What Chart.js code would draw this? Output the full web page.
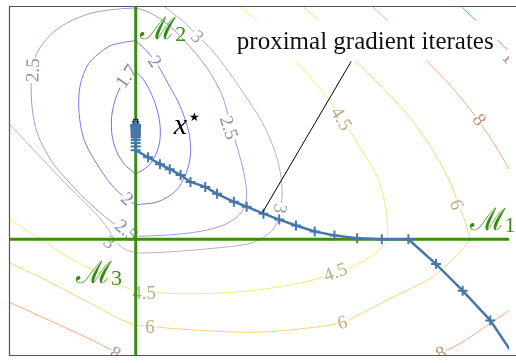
<!DOCTYPE html>
<html>
<head>
<meta charset="utf-8">
<title>Proximal gradient iterates</title>
<script src="https://cdn.jsdelivr.net/npm/chart.js@4.4.1/dist/chart.umd.min.js"></script>
<style>
    html, body { margin: 0; padding: 0; background: #fff; overflow: hidden; }
    canvas { display: block; }
</style>
</head>
<body>
<canvas id="proxChart" width="516" height="363"></canvas>
<script>
//--- Level sets of F = f + g, as [x1, x2] polylines. Split where they bend over a manifold.
var level17Left = [[0, 17.0], [-0.95, 16.2], [-1.65, 15.2], [-2.15, 13.9], [-2.45, 12.3], [-2.4, 10.5], [-1.95, 8.9], [-1.15, 7.6], [0, 6.6]];
var level17Right = [[0, 17.0], [0.75, 16.2], [1.45, 15.0], [2.05, 13.5], [2.45, 11.7], [2.45, 10.0], [2.05, 8.6], [1.25, 7.4], [0, 6.6]];

var level2Left = [[0, 20.1], [-1.35, 19.9], [-2.75, 19.5], [-4.75, 17.8], [-5.65, 15.5], [-5.75, 12.8], [-5.25, 10.1], [-4.05, 7.8], [-2.45, 5.5], [-0.95, 4.1], [0, 3.5]];
var level2Right = [[0, 20.1], [1.25, 18.9], [2.25, 17.6], [3.25, 15.8], [4.25, 14.0], [4.95, 12.3], [5.45, 10.5], [5.55, 8.5], [5.05, 6.5], [4.05, 4.9], [2.25, 3.8], [0, 3.5]];

var level25Left = [[0, 23.4], [-1.75, 23.3], [-4.45, 22.9], [-6.95, 21.9], [-8.75, 20.6], [-10.05, 18.8], [-10.55, 17.1], [-10.55, 13.8], [-10.15, 11.3], [-9.45, 9.5], [-8.25, 7.5], [-7.05, 6.1], [-5.55, 4.5], [-4.05, 3.1], [-2.25, 1.6], [0, 0.3]];
var level25Right = [[0, 23.4], [1.25, 23.0], [2.95, 22.0], [4.95, 20.1], [7.25, 17.3], [8.75, 14.6], [9.55, 11.8], [10.35, 9.1], [10.95, 6.8], [11.25, 4.6], [11.0, 3.2], [10.2, 2.2], [8.8, 1.4], [6.5, 0.8], [3.5, 0.45], [0, 0.3]];

var level3Left = [[-14.25, 13.1], [-12.75, 11.6], [-11.25, 10.0], [-9.45, 8.1], [-7.95, 6.5], [-6.05, 4.6], [-4.05, 2.6], [-2.75, 1.0], [-2.25, 0]];
var level3Dip = [[-2.25, 0], [-1.25, -0.9], [0, -1.4]];
var level3Lower = [[0, -1.4], [2.95, -1.3], [7.95, -0.9], [11.25, -0.5], [12.65, 0]];
var level3Right = [[12.65, 0], [13.85, 0.9], [14.55, 2.3], [14.85, 4.6], [14.65, 6.8], [14.15, 8.8], [13.25, 11.0], [12.25, 12.8], [11.05, 14.6], [9.55, 16.8], [7.75, 19.1], [6.25, 20.6], [4.75, 22.1], [2.95, 23.5], [2.05, 24.4]];

var level45Left = [[-14.25, 3.0], [-12.75, 2.0], [-11.05, 0.9], [-9.55, 0]];
var level45Dip = [[-9.55, 0], [-7.05, -1.7], [-3.75, -3.4], [-1.75, -4.6], [0, -5.2]];
var level45Lower = [[0, -5.2], [4.25, -5.5], [9.25, -5.4], [13.25, -5.0], [17.25, -4.3], [20.25, -3.4], [22.75, -2.4], [24.55, -1.2], [25.55, 0]];
var level45Right = [[25.55, 0], [25.55, 1.3], [25.25, 3.8], [24.35, 6.6], [22.75, 9.3], [20.95, 12.2], [19.05, 14.8], [16.25, 18.0], [12.05, 22.3], [10.55, 23.5], [9.85, 24.2]];

var level6Left = [[-14.25, -1.7], [-12.75, -2.4], [-9.75, -3.8], [-7.05, -5.2], [-3.75, -6.9], [-1.75, -8.0], [0, -8.7]];
var level6Lower = [[0, -8.7], [6.25, -9.2], [12.25, -9.4], [17.25, -9.0], [20.95, -8.4], [23.45, -7.2], [25.95, -5.9], [29.95, -3.9], [32.55, -1.6], [33.95, 0]];
var level6Right = [[33.95, 0], [33.55, 1.3], [32.85, 3.3], [31.95, 5.6], [30.25, 8.8], [27.95, 12.1], [25.25, 15.1], [22.55, 17.8], [18.45, 22.2], [17.05, 23.5], [16.25, 24.3]];

var level8Left = [[-14.25, -5.8], [-12.75, -6.4], [-8.75, -8.2], [-5.05, -9.9], [-2.45, -11.2], [-1.25, -11.9], [-0.05, -12.6]];
var level8Lower = [[28.25, -12.8], [30.95, -11.5], [32.95, -10.5], [35.95, -8.5], [37.85, -7.2], [39.25, -6.2]];
var level8Upper = [[23.25, 24.3], [24.05, 23.5], [25.55, 22.1], [29.75, 17.8], [31.95, 15.5], [33.95, 13.1], [36.25, 9.8], [37.85, 7.1], [38.75, 5.3]];

var level10Upper = [[32.25, 24.3], [33.05, 23.5], [34.55, 22.1], [37.05, 19.8], [38.25, 18.6], [39.25, 17.6]];

//--- Manifolds M2 = {x1 = 0}, M1 = {x2 = 0}
var manifold2 = [[0, -13], [0, 25]];
var manifold1 = [[-14, 0], [40, 0]];

//--- Proximal gradient iterates, first to last
var iterX = [38.65, 35.95, 33.15, 30.45, 27.65, 24.95, 22.45, 20.15, 18.15, 16.25, 14.55, 12.95, 11.25, 9.95, 8.25, 7.05, 5.55, 4.55, 3.45, 2.45, 1.25,
    0, 0, 0, 0, 0, 0, 0, 0, 0, 0, 0, 0, 0, 0, 0, 0, 0, 0, 0, 0, 0, 0, 0, 0, 0, 0];
var iterY = [-12.2, -8.2, -5.2, -2.5, 0, 0, 0.1, 0.4, 0.8, 1.4, 2.0, 2.6, 3.3, 3.8, 4.6, 5.3, 5.8, 6.5, 7.1, 7.6, 8.3,
    9.0, 9.4, 9.75, 10.05, 10.3, 10.45, 10.58, 10.7, 10.8, 10.9, 10.98, 11.06, 11.13, 11.2, 11.26, 11.31, 11.36, 11.4, 11.44, 11.47, 11.5, 11.52, 11.54, 11.56, 11.58, 11.6];
var solution = [0, 11.9];

//--- Level values and their pieces
var levels = ['1.7', '2', '2.5', '3', '4.5', '6', '8', '10'];
var levelPieces = {
    '1.7': [level17Left, level17Right],
    '2': [level2Left, level2Right],
    '2.5': [level25Left, level25Right],
    '3': [level3Left, level3Dip, level3Lower, level3Right],
    '4.5': [level45Left, level45Dip, level45Lower, level45Right],
    '6': [level6Left, level6Lower, level6Right],
    '8': [level8Left, level8Lower, level8Upper],
    '10': [level10Upper]
};

// line and label colours per level
var lineColors = {
    '1.7': '#7070f0', '2': '#7878ee', '2.5': '#9c9ce2', '3': '#b2b2ca',
    '4.5': '#f2ec72', '6': '#f8d472', '8': '#f8aa7a', '10': '#f07272'
};
var textColors = {
    '1.7': '#8484b4', '2': '#8888b6', '2.5': '#8e8eaa', '3': '#9c9cac',
    '4.5': '#b4b07e', '6': '#bfab7c', '8': '#c09479', '10': '#c08080'
};

// where the level labels sit: value, [x1, x2], angle in degrees
var labelSpots = [
    ['3', [-2.65, -0.3], 40],
    ['2.5', [-0.95, 0.9], 40],
    ['1.7', [-0.95, 16.5], -55],
    ['2', [1.95, 18.0], 55],
    ['2', [-0.85, 4.1], 40],
    ['2.5', [-10.45, 17.1], -88],
    ['2.5', [9.45, 11.3], 72],
    ['3', [6.25, 20.5], 45],
    ['3', [14.65, 3.1], 100],
    ['4.5', [20.85, 12.2], 58],
    ['4.5', [0.85, -5.4], 0],
    ['4.5', [20.25, -3.3], -20],
    ['6', [32.55, 3.5], 70],
    ['6', [1.45, -8.9], 0],
    ['6', [20.95, -8.4], -15],
    ['8', [34.85, 12.1], 55],
    ['8', [-2.05, -11.5], 27],
    ['8', [30.95, -11.5], -25],
    ['10', [38.15, 18.1], 45]
];

// manifold names: index, anchor of the letter [x1, x2]
var manifoldNames = [
    ['2', [0.45, 20.3]],
    ['1', [33.85, 0.9]],
    ['3', [-6.05, -4.4]]
];

var greenColor = '#3a8c12';
var pathColor = '#4677ab';

function toPoints(arr) {
    return arr.map(function (p) { return { x: p[0], y: p[1] }; });
}

function px(chart, p) {
    return [chart.scales.x.getPixelForValue(p[0]), chart.scales.y.getPixelForValue(p[1])];
}

function buildDatasets() {
    var sets = [];
    sets.push({
        data: iterX.map(function (x, i) { return { x: x, y: iterY[i] }; }),
        showLine: true, borderColor: pathColor, borderWidth: 2.5, tension: 0,
        pointStyle: 'cross', pointRadius: 5, pointBorderWidth: 2,
        pointBorderColor: pathColor, pointBackgroundColor: pathColor,
        clip: 0, order: 1
    });
    sets.push({
        data: toPoints([solution]), showLine: false,
        pointStyle: 'star', pointRadius: 3.5, pointBorderWidth: 1.5,
        pointBorderColor: '#000', pointBackgroundColor: '#000', clip: 0, order: 2
    });
    [manifold2, manifold1].forEach(function (m) {
        sets.push({
            data: toPoints(m), showLine: true, borderColor: greenColor, borderWidth: 3,
            pointRadius: 0, tension: 0, clip: 0, order: 3
        });
    });
    var first = true;
    levels.forEach(function (lv) {
        levelPieces[lv].forEach(function (piece) {
            sets.push({
                data: toPoints(piece), showLine: true, borderColor: lineColors[lv],
                borderWidth: 1, pointRadius: 0, tension: 0.3, clip: 0, order: 4,
                drawLevelLabels: first
            });
            first = false;
        });
    });
    return sets;
}

// level labels go on top of the contour lines, under the manifolds
var levelLabels = {
    id: 'levelLabels',
    afterDatasetDraw: function (chart, args) {
        if (!chart.data.datasets[args.index].drawLevelLabels) return;
        var ctx = chart.ctx, area = chart.chartArea;
        ctx.save();
        ctx.beginPath();
        ctx.rect(area.left, area.top, area.right - area.left, area.bottom - area.top);
        ctx.clip();
        ctx.font = '19px "Liberation Serif"';
        ctx.textAlign = 'center';
        ctx.textBaseline = 'middle';
        labelSpots.forEach(function (s) {
            var p = px(chart, s[1]);
            var w = ctx.measureText(s[0]).width;
            ctx.save();
            ctx.translate(p[0], p[1]);
            ctx.rotate(s[2] * Math.PI / 180);
            ctx.fillStyle = '#fff';
            ctx.fillRect(-w / 2 - 1, -7, w + 2, 14);
            ctx.fillStyle = textColors[s[0]];
            ctx.fillText(s[0], 0, 1);
            ctx.restore();
        });
        ctx.restore();
    }
};

// annotations: manifold names, x*, callout and frame
var annotations = {
    id: 'annotations',
    afterDatasetsDraw: function (chart) {
        var ctx = chart.ctx, area = chart.chartArea;
        ctx.save();

        // callout box and text
        var b0 = px(chart, [9.85, 22.1]), b1 = px(chart, [36.65, 18.1]);
        ctx.fillStyle = '#fff';
        ctx.fillRect(b0[0], b0[1], b1[0] - b0[0], b1[1] - b0[1]);
        var t = px(chart, [10.25, 19.3]);
        ctx.fillStyle = '#111';
        ctx.font = '25px "Liberation Serif"';
        ctx.textAlign = 'left';
        ctx.textBaseline = 'alphabetic';
        ctx.fillText('proximal gradient iterates', t[0], t[1]);
        var l0 = px(chart, [21.85, 18.0]), l1 = px(chart, [12.85, 2.7]);
        ctx.strokeStyle = '#000';
        ctx.lineWidth = 1;
        ctx.beginPath();
        ctx.moveTo(l0[0], l0[1]);
        ctx.lineTo(l1[0], l1[1]);
        ctx.stroke();

        // manifold names, the index set right after the letter
        ctx.fillStyle = greenColor;
        manifoldNames.forEach(function (m) {
            var a = px(chart, m[1]);
            ctx.font = '31px "DejaVu Serif"';
            var w = ctx.measureText('\u2133').width;
            ctx.fillText('\u2133', a[0], a[1]);
            ctx.font = '22px "Liberation Serif"';
            ctx.fillText(m[0], a[0] + w - 1, a[1] + 2);
        });

        // x*
        var xs = px(chart, [3.85, 10.7]);
        ctx.fillStyle = '#000';
        ctx.font = 'italic 30px "Liberation Serif"';
        ctx.fillText('x', xs[0], xs[1]);
        var st = px(chart, [5.95, 12.3]);
        ctx.font = '12px "DejaVu Sans"';
        ctx.textAlign = 'center';
        ctx.textBaseline = 'middle';
        ctx.fillText('\u2605', st[0], st[1]);

        // frame on left, top and bottom
        ctx.strokeStyle = '#555';
        ctx.lineWidth = 1.2;
        ctx.beginPath();
        ctx.moveTo(chart.width, area.top - 0.5);
        ctx.lineTo(area.left - 0.5, area.top - 0.5);
        ctx.lineTo(area.left - 0.5, area.bottom + 0.5);
        ctx.lineTo(chart.width, area.bottom + 0.5);
        ctx.stroke();
        ctx.restore();
    }
};

new Chart(document.getElementById('proxChart'), {
    type: 'scatter',
    data: { datasets: buildDatasets() },
    options: {
        responsive: false,
        animation: false,
        devicePixelRatio: 1,
        events: [],
        layout: { padding: { left: 10, top: 3, right: 0, bottom: 8 } },
        elements: { line: { capBezierPoints: false } },
        scales: {
            x: { type: 'linear', min: -12.75, max: 37.85, display: false },
            y: { type: 'linear', min: -11.7, max: 23.5, display: false }
        },
        plugins: { legend: { display: false }, tooltip: { enabled: false } }
    },
    plugins: [levelLabels, annotations]
});
</script>
</body>
</html>
